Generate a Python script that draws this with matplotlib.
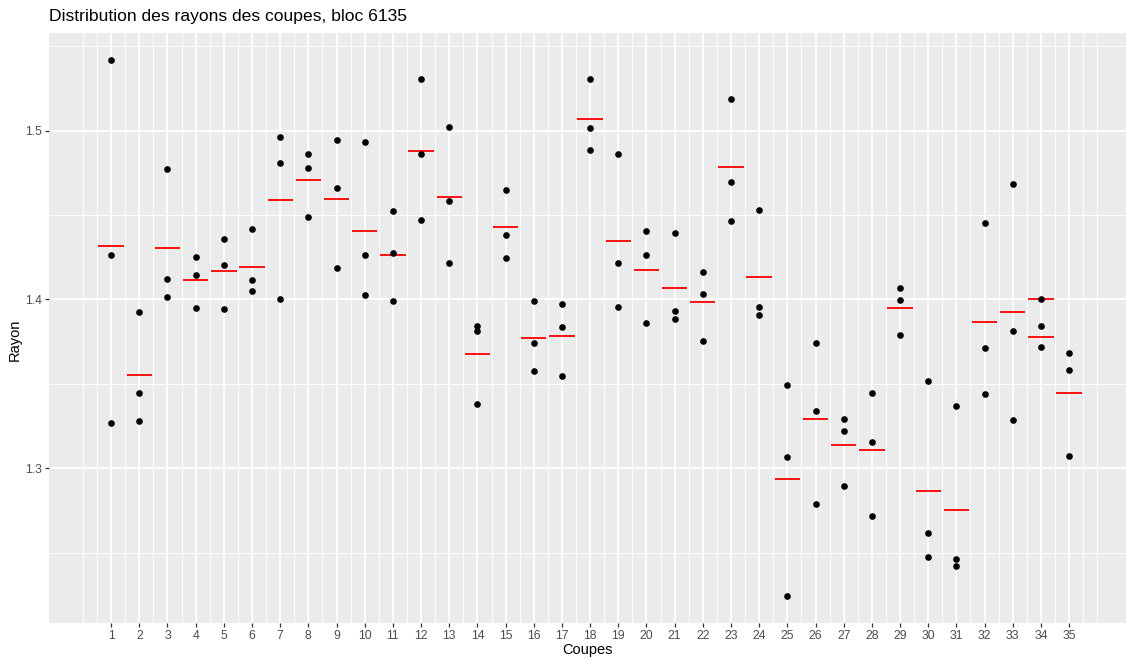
import numpy as np
import matplotlib
matplotlib.use("Agg")
from matplotlib import pyplot as plt
from matplotlib.ticker import FixedLocator

plt.rcParams['font.family'] = ['Liberation Sans', 'DejaVu Sans']

# coupe number for each group of measures (34 appears twice: two separate series)
coupes = [1, 2, 3, 4, 5, 6, 7, 8, 9, 10, 11, 12, 13, 14, 15, 16, 17, 18,
          19, 20, 21, 22, 23, 24, 25, 26, 27, 28, 29, 30, 31, 32, 33, 34, 34, 35]

rayons = [
    [1.5419, 1.4261, 1.3267],
    [1.3927, 1.3443, 1.3280],
    [1.4772, 1.4122, 1.4015],
    [1.4253, 1.4146, 1.3947],
    [1.4356, 1.4205, 1.3944],
    [1.4419, 1.4116, 1.4049],
    [1.4964, 1.4810, 1.4004],
    [1.4865, 1.4777, 1.4486],
    [1.4946, 1.4660, 1.4186],
    [1.4932, 1.4261, 1.4025],
    [1.4522, 1.4273, 1.3994],
    [1.5308, 1.4863, 1.4472],
    [1.5023, 1.4583, 1.4217],
    [1.3840, 1.3812, 1.3381],
    [1.4650, 1.4385, 1.4247],
    [1.3994, 1.3743, 1.3577],
    [1.3976, 1.3836, 1.3545],
    [1.5308, 1.5017, 1.4887],
    [1.4865, 1.4219, 1.3954],
    [1.4405, 1.4261, 1.3860],
    [1.4397, 1.3929, 1.3883],
    [1.4162, 1.4033, 1.3755],
    [1.5186, 1.4699, 1.4468],
    [1.4529, 1.3958, 1.3907],
    [1.3496, 1.3069, 1.2243],
    [1.3745, 1.3340, 1.2787],
    [1.3292, 1.3219, 1.2897],
    [1.3446, 1.3158, 1.2714],
    [1.4071, 1.3998, 1.3787],
    [1.3516, 1.2613, 1.2472],
    [1.3368, 1.2459, 1.2423],
    [1.4451, 1.3711, 1.3441],
    [1.4682, 1.3812, 1.3284],
    [1.4000],
    [1.3840, 1.3721],
    [1.3683, 1.3583, 1.3075],
]

W, H = 1126, 660
fig = plt.figure(figsize=(W / 100, H / 100), dpi=100)
ax = fig.add_axes([49.3 / W, (H - 622.7) / H, (W - 49.3) / W, (622.7 - 33.3) / H])
ax.set_facecolor('#EBEBEB')
for s in ax.spines.values():
    s.set_visible(False)

# points + mean segment (width 0.9) for each group
for c, vals in zip(coupes, rayons):
    ax.plot([c] * len(vals), vals, 'o', color='black', markersize=4.8,
            markeredgewidth=0, zorder=3)
    m = np.mean(vals)
    ax.plot([c - 0.45, c + 0.45], [m, m], color='red', linewidth=1.3,
            solid_capstyle='butt', zorder=2)

# ggplot-like 5% expansion
allv = np.concatenate([np.array(v) for v in rayons])
ymin, ymax = allv.min(), allv.max()
dy = 0.05 * (ymax - ymin)
ax.set_ylim(ymin - dy, ymax + dy)
xmin, xmax = min(coupes) - 0.45, max(coupes) + 0.45
dx = 0.05 * (xmax - xmin)
ax.set_xlim(xmin - dx, xmax + dx - 0.175)

ax.xaxis.set_major_locator(FixedLocator(range(1, 36)))
ax.xaxis.set_minor_locator(FixedLocator(np.arange(0, 36.01, 0.5)))
ax.yaxis.set_major_locator(FixedLocator([1.3, 1.4, 1.5]))
ax.yaxis.set_minor_locator(FixedLocator([1.25, 1.35, 1.45, 1.55]))
ax.grid(which='major', color='white', linewidth=1.3)
ax.grid(which='minor', color='white', linewidth=0.65)
ax.set_axisbelow(True)

ax.tick_params(which='major', length=3, width=0.9, color='#333333',
               labelcolor='#4D4D4D', labelsize=8.8, pad=2)
ax.tick_params(which='minor', length=0)

fig.text(49.3 / W, 1 - 17 / H, 'Distribution des rayons des coupes, bloc 6135',
         fontsize=12.6, ha='left', va='center', color='black')
fig.text((49.3 + W) / 2 / W, 1 - 650 / H, 'Coupes', fontsize=10.5,
         ha='center', va='center')
fig.text(15 / W, 1 - 340 / H, 'Rayon', fontsize=10.5, rotation=90,
         ha='center', va='center')

fig.savefig('out.png', dpi=100)
